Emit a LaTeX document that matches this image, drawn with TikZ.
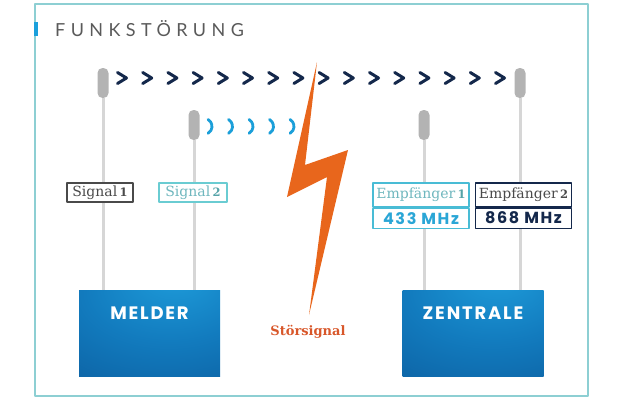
\documentclass[tikz,border=0pt]{standalone}
\usepackage{fontspec}
\setmainfont{DejaVu Serif}
\newfontfamily\titlefont[LetterSpace=30]{Lato}
\newfontfamily\boxfont[LetterSpace=10]{Poppins}
\usetikzlibrary{positioning}
\definecolor{frameteal}{HTML}{8DCFD3}
\definecolor{tickblue}{HTML}{1AA0DC}
\definecolor{titlegray}{HTML}{5A5A5A}
\definecolor{chevnavy}{HTML}{14284B}
\definecolor{wavecyan}{HTML}{1B9FD9}
\definecolor{boltorange}{HTML}{E8661C}
\definecolor{stoerred}{HTML}{D8572A}
\definecolor{capgray}{HTML}{B3B3B3}
\definecolor{stickgray}{HTML}{D6D6D6}
\definecolor{sigdark}{HTML}{4A4A4A}
\definecolor{sigteal}{HTML}{6ACCD2}
\definecolor{sigtealtext}{HTML}{6FB7BE}
\definecolor{empcyan}{HTML}{49BCD5}
\definecolor{mhzcyan}{HTML}{2AA6D6}
\definecolor{boxlight}{HTML}{1E9CDA}
\definecolor{boxmid}{HTML}{127BBE}
\definecolor{boxdark}{HTML}{0B5A9B}
\pgfdeclareradialshading{boxglow}{\pgfpoint{10bp}{35bp}}{color(0bp)=(boxlight); color(30bp)=(boxmid); color(65bp)=(boxdark); color(100bp)=(boxdark)}
\newcommand{\numb}[1]{\,{\bfseries\fontsize{11.5}{13}\selectfont #1}}

\begin{document}
\begin{tikzpicture}[line cap=round,line join=round,x=1pt,y=-1pt,
  funkbox/.style={rectangle,shading=boxglow,minimum width=141pt,minimum height=86pt,inner sep=0pt},
  boxlabel/.style={text=white,font=\boxfont\bfseries\fontsize{18}{20}\selectfont,inner sep=0pt},
  antcap/.style={rectangle,fill=capgray,rounded corners=5pt,minimum width=11pt,minimum height=30pt,inner sep=0pt},
  stick/.style={stickgray,line width=3pt,line cap=butt},
  sig/.style={rectangle,fill=white,line width=1.1pt,inner sep=0pt,minimum height=19pt,font=\fontsize{14}{16}\selectfont},
  emp/.style={sig,minimum width=96pt,minimum height=24pt},
  mhz/.style={rectangle,fill=white,line width=1.1pt,inner sep=0pt,minimum width=96pt,minimum height=20pt,font=\boxfont\bfseries\fontsize{16}{18}\selectfont},
  chev/.style={chevnavy,line width=3pt},
  wave/.style={wavecyan,line width=2.8pt}]
\useasboundingbox (0,0) rectangle (630,418);
% frame and title
\draw[frameteal,line width=1.5pt] (35,4) rectangle (588,396);
\fill[tickblue] (34,22) rectangle (38,36);
\node[anchor=base west,text=titlegray,font=\titlefont\fontsize{18}{20}\selectfont,inner sep=0pt] (title) at (55,36) {FUNKSTÖRUNG};
% boxes
\node[funkbox] (melder) at (149.5,333) {};
\node[boxlabel,below=17pt of melder.north] (meldertxt) {MELDER};
\node[funkbox] (zentrale) at (473,333) {};
\node[boxlabel,below=17pt of zentrale.north] (zentraletxt) {ZENTRALE};
% antennas
\node[antcap] (cap1) at (103,83) {};
\node[antcap] (cap2) at (194,125) {};
\node[antcap] (cap3) at (424,125) {};
\node[antcap] (cap4) at (520,83) {};
\draw[stick] (cap1.south) -- (cap1.south |- melder.north);
\draw[stick] (cap2.south) -- (cap2.south |- melder.north);
\draw[stick] (cap3.south) -- (cap3.south |- zentrale.north);
\draw[stick] (cap4.south) -- (cap4.south |- zentrale.north);
% signals
\foreach \i in {0,...,15}
\draw[chev] ({122+25.2*\i-4.5},72.5) -- ++(9,5.5) -- ++(-9,5.5);
\foreach \i in {0,...,4}
\draw[wave] ({208+20.5*\i},119.5) arc[start angle=-60,end angle=60,radius=8];
% labels
\node[sig,draw=sigdark,text=sigdark,minimum width=66pt] (sig1) at (100,192.5) {Signal\numb{1}};
\node[sig,draw=sigteal,text=sigtealtext,minimum width=68pt] (sig2) at (193,192.5) {Signal\textcolor{sigteal!80!black}{\numb{2}}};
\node[emp,draw=empcyan,text=sigtealtext] (emp1) at (421,195) {Empfänger\textcolor{sigteal!80!black}{\numb{1}}};
\node[mhz,draw=empcyan,text=mhzcyan,below=0pt of emp1] (mhz1) {433 MHz};
\node[emp,draw=chevnavy,text=sigdark] (emp2) at (523.5,195) {Empfänger\numb{2}};
\node[mhz,draw=chevnavy,text=chevnavy,below=0pt of emp2] (mhz2) {868 MHz};
% interference
\fill[boltorange] (317,62) -- (305,165) -- (348,150) -- (309,315) -- (327,177) -- (287,197) -- cycle;
\node[text=stoerred,font=\bfseries\fontsize{13}{15}\selectfont] (stoer) at (308,332) {Störsignal};
\end{tikzpicture}
\end{document}
